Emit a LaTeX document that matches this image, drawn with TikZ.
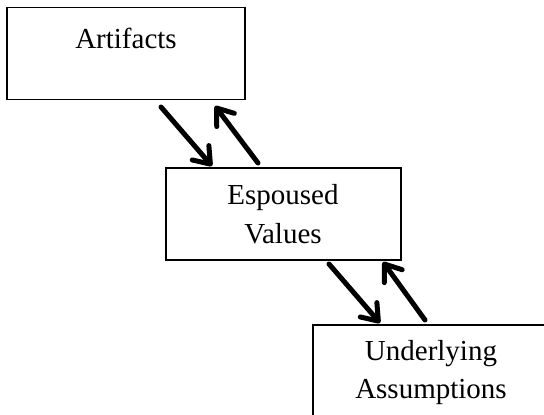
\documentclass[tikz,border=0pt]{standalone}
\usepackage{fontspec}
\setmainfont{Liberation Serif}
\usetikzlibrary{arrows.meta}
\begin{document}
\begin{tikzpicture}[x=1pt,y=-1pt,
  box/.style={draw,line width=1.4pt,inner sep=0pt},
  lbl/.style={anchor=base,inner sep=0pt,font=\fontsize{29}{34}\selectfont},
  flow/.style={line width=5pt,line cap=round,-{Straight Barb[length=15pt,width=22pt,line width=5pt,round]}}]
\useasboundingbox (0,0) rectangle (544,415);
\fill[white] (0,0) rectangle (544,415);
\node[box,minimum width=238pt,minimum height=92pt] (art) at (126,53.5) {};
\node[box,minimum width=235pt,minimum height=92pt] (esp) at (283.5,214) {};
\node[box,minimum width=236pt,minimum height=110pt] (und) at (431,380) {};
\node[lbl] (t1) at (126,48) {Artifacts};
\node[lbl] (t2) at (283,204) {Espoused};
\node[lbl] (t3) at (283,243) {Values};
\node[lbl] (t4) at (431,360) {Underlying};
\node[lbl] (t5) at (431,398) {Assumptions};
\coordinate (a1s) at (161,107);
\coordinate (a1e) at (212,166);
\coordinate (a2s) at (258,163);
\coordinate (a2e) at (215,106);
\coordinate (b1s) at (329,264);
\coordinate (b1e) at (380,323);
\coordinate (b2s) at (425,320);
\coordinate (b2e) at (383,262);
\draw[flow] (a1s) -- (a1e);
\draw[flow] (a2s) -- (a2e);
\draw[flow] (b1s) -- (b1e);
\draw[flow] (b2s) -- (b2e);
\end{tikzpicture}
\end{document}
